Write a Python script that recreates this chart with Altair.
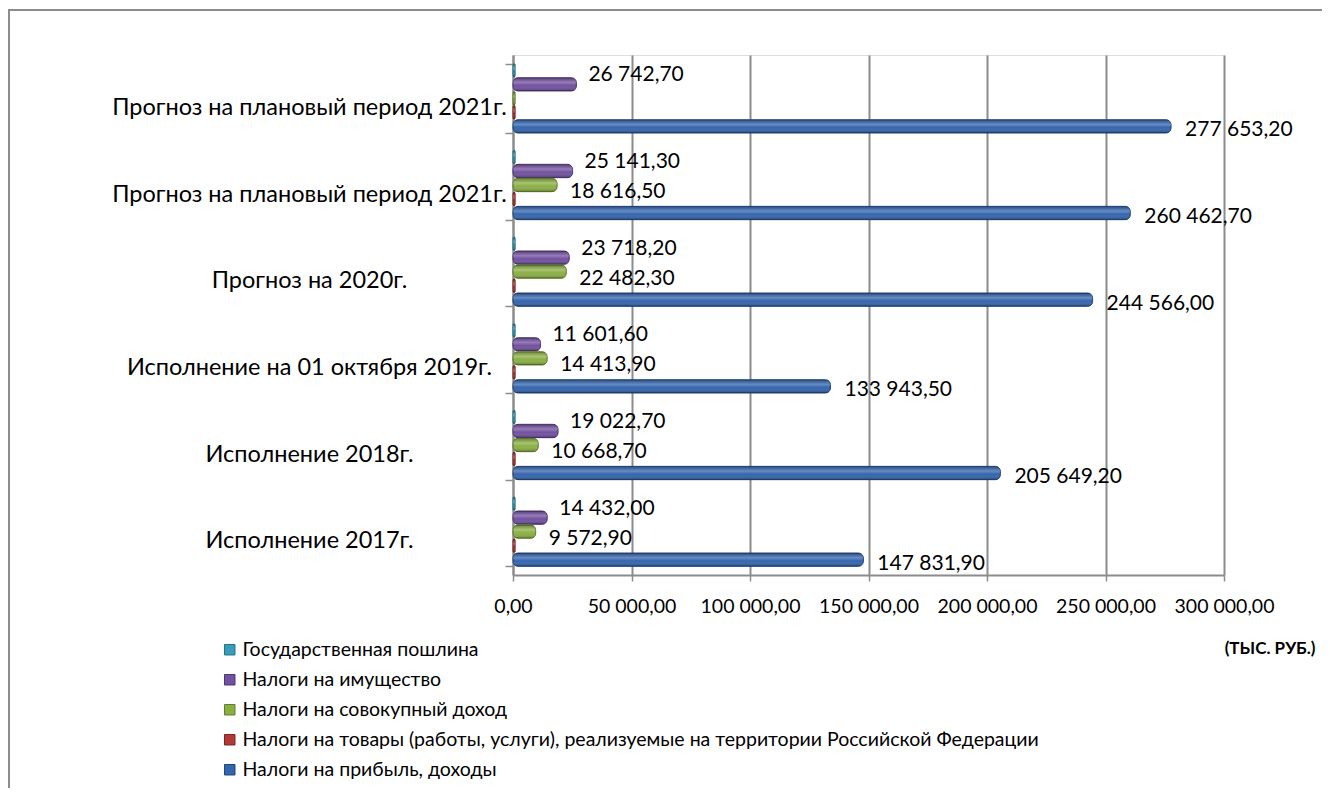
import altair as alt
import pandas as pd

categories = [
    "Прогноз на плановый период 2021г.",
    "Прогноз на плановый период 2021г. ",
    "Прогноз на 2020г.",
    "Исполнение  на 01 октября 2019г.",
    "Исполнение 2018г.",
    "Исполнение 2017г.",
]
series = [
    "Государственная пошлина",
    "Налоги на имущество",
    "Налоги на совокупный доход",
    "Налоги на товары (работы, услуги), реализуемые на территории Российской Федерации",
    "Налоги на прибыль, доходы",
]
gos_poshlina = [900, 900, 900, 900, 900, 900]
imushchestvo = [26742.70, 25141.30, 23718.20, 11601.60, 19022.70, 14432.00]
sovokupny = [900, 18616.50, 22482.30, 14413.90, 10668.70, 9572.90]
tovary = [900, 900, 900, 900, 900, 900]
pribyl = [277653.20, 260462.70, 244566.00, 133943.50, 205649.20, 147831.90]

colors = ["#3A9DB8", "#7251A0", "#8BAF45", "#B03A38", "#3465AE"]
strokes = ["#22738a", "#4e3573", "#61802a", "#7d2422", "#1f4579"]
x_ticks = [0, 50000, 100000, 150000, 200000, 250000, 300000]

all_values = [gos_poshlina, imushchestvo, sovokupny, tovary, pribyl]
rows = []
for s, vals in zip(series, all_values):
    for c, v in zip(categories, vals):
        lab = f"{v:,.2f}".replace(",", " ").replace(".", ",")
        rows.append({"cat": c, "series": s, "value": v, "label": lab})
df = pd.DataFrame(rows)

FONT = "Lato"

y_enc = alt.Y(
    "cat:N",
    sort=categories,
    scale=alt.Scale(paddingInner=0.2, paddingOuter=0.1),
    axis=alt.Axis(
        title=None,
        tickBand="extent",
        tickSize=8,
        tickColor="#8c8c8c",
        tickWidth=1.5,
        domainColor="#8c8c8c",
        domainWidth=2,
        labelAlign="center",
        labelPadding=196,
        labelOffset=9,
        labelFontSize=23.5,
        labelFont=FONT,
        labelColor="#000000",
        labelLimit=500,
        grid=False,
    ),
)
yoff_enc = alt.YOffset("series:N", sort=series, scale=alt.Scale(paddingInner=0.05))
x_enc = alt.X(
    "value:Q",
    scale=alt.Scale(domain=[0, 300000], nice=False),
    axis=alt.Axis(
        values=x_ticks,
        labelExpr="replace(replace(format(datum.value, ',.2f'), ',', ' '), '.', ',')",
        labelOverlap=False,
        labelFlush=False,
        labelFontSize=19.5,
        labelFont=FONT,
        labelColor="#000000",
        labelPadding=16,
        tickSize=6,
        tickColor="#8c8c8c",
        tickWidth=1.5,
        domainColor="#8c8c8c",
        domainWidth=2,
        grid=True,
        gridColor="#8c8c8c",
        gridWidth=2,
        title="(ТЫС. РУБ.)",
        titleFont=FONT,
        titleFontSize=17,
        titleFontWeight="bold",
        titleX=802,
        titleY=73,
        titleAlign="right",
        titleBaseline="middle",
    ),
)

base = alt.Chart(df)

bars = base.mark_bar(cornerRadius=5, strokeWidth=1).encode(
    y=y_enc,
    yOffset=yoff_enc,
    x=x_enc,
    color=alt.Color(
        "series:N",
        sort=series,
        scale=alt.Scale(domain=series, range=colors),
        legend=alt.Legend(
            title=None,
            orient="none",
            legendX=-293,
            legendY=585,
            direction="vertical",
            symbolType="square",
            symbolSize=110,
            symbolStrokeWidth=1,
            labelFont=FONT,
            labelFontSize=19.5,
            labelColor="#000000",
            labelLimit=900,
            rowPadding=9,
            labelOffset=3,
        ),
    ),
    stroke=alt.Stroke(
        "series:N", sort=series, scale=alt.Scale(domain=series, range=strokes), legend=None
    ),
)

sheen = base.mark_bar(
    cornerRadius=5,
    fill=alt.Gradient(
        gradient="linear",
        x1=0, y1=0, x2=0, y2=1,
        stops=[
            alt.GradientStop(offset=0, color="rgba(0,0,0,0.25)"),
            alt.GradientStop(offset=0.35, color="rgba(255,255,255,0.25)"),
            alt.GradientStop(offset=0.6, color="rgba(255,255,255,0.0)"),
            alt.GradientStop(offset=1, color="rgba(0,0,0,0.3)"),
        ],
    ),
).encode(y=alt.Y("cat:N", sort=categories), yOffset=alt.YOffset("series:N", sort=series), x="value:Q")


def label_layer(sname, dy, dx):
    return base.transform_filter(
        (alt.datum.series == sname) & (alt.datum.value > 5000)
    ).mark_text(
        align="left", baseline="middle", dx=dx, dy=dy, fontSize=21, font=FONT, color="#000000"
    ).encode(
        y=alt.Y("cat:N", sort=categories),
        yOffset=alt.YOffset("series:N", sort=series),
        x="value:Q",
        text="label:N",
    )


labels = (
    label_layer(series[1], -9, 12)
    + label_layer(series[2], 7, 13)
    + label_layer(series[4], 4, 14)
)

frame_df = pd.DataFrame({"a": [0]})
frame_top = alt.Chart(frame_df).mark_rule(color="#8c8c8c", strokeWidth=2).encode(
    x=alt.value(-505), x2=alt.value(820), y=alt.value(-45)
)
frame_left = alt.Chart(frame_df).mark_rule(color="#8c8c8c", strokeWidth=2).encode(
    x=alt.value(-504), y=alt.value(-45), y2=alt.value(740)
)

chart = (
    alt.layer(bars, sheen, labels, frame_top, frame_left)
    .properties(
        width=711,
        height=520,
        autosize=alt.AutoSizeParams(type="none"),
        padding={"left": 505, "top": 47, "right": 98, "bottom": 213},
    )
    .resolve_scale(color="shared")
    .configure_view(stroke=None)
    .configure(background="#ffffff")
)

chart.save("out.html", embed_options={"renderer": "svg", "actions": False})
